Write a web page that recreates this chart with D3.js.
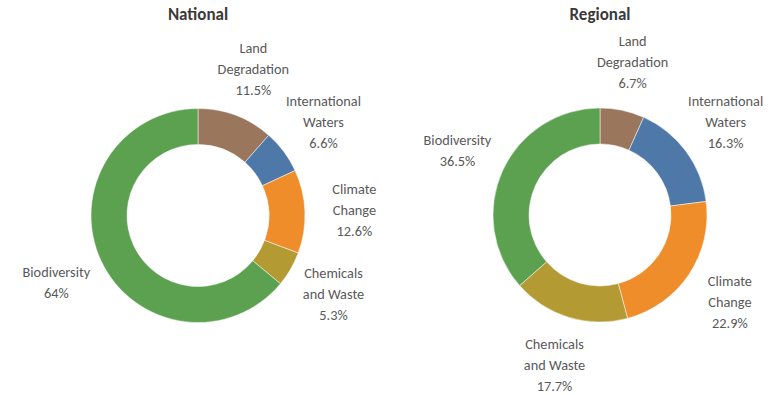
<!DOCTYPE html>
<html>
<head>
<meta charset="utf-8">
<script src="https://cdn.jsdelivr.net/npm/d3@7"></script>
<style>
  html, body { margin: 0; padding: 0; background: #fff; }
  svg { display: block; }
</style>
</head>
<body>
<svg id="chart" width="772" height="395"></svg>
<script>
const categories = ["Land Degradation", "International Waters", "Climate Change", "Chemicals and Waste", "Biodiversity"];
const labelLines = [["Land", "Degradation"], ["International", "Waters"], ["Climate", "Change"], ["Chemicals", "and Waste"], ["Biodiversity"]];
const nationalValues = [11.5, 6.6, 12.6, 5.3, 64];
const nationalLabels = ["11.5%", "6.6%", "12.6%", "5.3%", "64%"];
const regionalValues = [6.7, 16.3, 22.9, 17.7, 36.5];
const regionalLabels = ["6.7%", "16.3%", "22.9%", "17.7%", "36.5%"];
const colors = ["#9A775C", "#4E78A8", "#F08D2B", "#B39A33", "#5BA150"];

const svg = d3.select("#chart");
const font = "Carlito, Calibri, Lato, sans-serif";
const color = d3.scaleOrdinal().domain(categories).range(colors);

const panels = [
  { title: "National", values: nationalValues, labels: nationalLabels, cx: 198, cy: 215.5 },
  { title: "Regional", values: regionalValues, labels: regionalLabels, cx: 600, cy: 215 }
];

const outerR = 107, innerR = 71, labelR = 156.5, lineH = 21;
const pie = d3.pie().sort(null).value(d => d.value);
const arc = d3.arc().innerRadius(innerR).outerRadius(outerR);
const labelArc = d3.arc().innerRadius(labelR).outerRadius(labelR);

panels.forEach(p => {
  const g = svg.append("g").attr("transform", `translate(${p.cx},${p.cy})`);
  const data = categories.map((c, i) => ({ cat: c, value: p.values[i], lines: labelLines[i].concat([p.labels[i]]) }));
  const arcs = pie(data);

  g.selectAll("path").data(arcs).join("path")
    .attr("d", arc)
    .attr("fill", d => color(d.data.cat))
    .attr("stroke", "#fff")
    .attr("stroke-width", 0.5);

  const lbl = g.selectAll("g.lbl").data(arcs).join("g").attr("class", "lbl")
    .attr("transform", d => `translate(${labelArc.centroid(d)})`);
  lbl.each(function(d) {
    const n = d.data.lines.length;
    d3.select(this).selectAll("text").data(d.data.lines).join("text")
      .attr("x", 0)
      .attr("y", (t, i) => (i - (n - 1) / 2) * lineH + 5)
      .attr("text-anchor", "middle")
      .attr("font-family", font)
      .attr("font-size", 14.3)
      .attr("fill", "#595959")
      .text(t => t);
  });

  svg.append("text")
    .attr("x", p.cx)
    .attr("y", 20)
    .attr("text-anchor", "middle")
    .attr("font-family", font)
    .attr("font-weight", "bold")
    .attr("font-size", 17)
    .attr("fill", "#3A3A3A")
    .text(p.title);
});
</script>
</body>
</html>
